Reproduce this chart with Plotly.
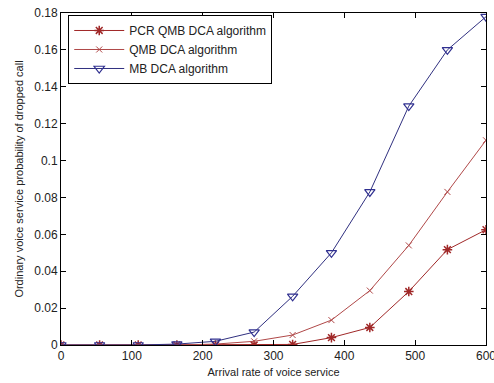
import plotly.graph_objects as go

x_vals = [0, 54.5, 109, 163.6, 218, 272.7, 327, 381.8, 436, 491, 545.5, 600]
pcr_qmb = [0, 0, 0, 0, 0, 0, 0.0003, 0.004, 0.0095, 0.029, 0.0517, 0.0625]
qmb = [0, 0, 0, 0, 0.0005, 0.002, 0.0054, 0.0135, 0.0295, 0.054, 0.083, 0.111]
mb = [0, 0, 0, 0.0005, 0.002, 0.007, 0.0264, 0.05, 0.083, 0.1295, 0.16, 0.178]

names = ["PCR QMB DCA algorithm", "QMB DCA algorithm", "MB DCA algorithm"]
x_ticks = [0, 100, 200, 300, 400, 500, 600]
y_ticks = [0, 0.02, 0.04, 0.06, 0.08, 0.1, 0.12, 0.14, 0.16, 0.18]
y_tick_labels = ["0", "0.02", "0.04", "0.06", "0.08", "0.1", "0.12", "0.14", "0.16", "0.18"]

fig = go.Figure()
fig.add_trace(go.Scatter(x=x_vals, y=pcr_qmb, name=names[0], mode="lines+markers",
                         line=dict(color="#a02828", width=1),
                         marker=dict(symbol="asterisk-open", size=8,
                                     line=dict(color="#e02020", width=1.5))))
fig.add_trace(go.Scatter(x=x_vals, y=qmb, name=names[1], mode="lines+markers",
                         line=dict(color="#b04848", width=1),
                         marker=dict(symbol="x-thin-open", size=6,
                                     line=dict(color="#d04040", width=1))))
fig.add_trace(go.Scatter(x=x_vals, y=mb, name=names[2], mode="lines+markers",
                         line=dict(color="#303080", width=1),
                         marker=dict(symbol="triangle-down-open", size=9,
                                     color="#303090",
                                     line=dict(color="#303090", width=1.2))))

axis_common = dict(showline=True, linecolor="black", linewidth=1, mirror="ticks",
                   ticks="inside", ticklen=5, tickcolor="black", showgrid=False,
                   zeroline=False, automargin=False, ticklabeloverflow="allow",
                   tickfont=dict(family="Liberation Sans, Arial", size=12, color="#222"))

fig.update_xaxes(range=[0, 600], tickvals=x_ticks,
                 title=dict(text="Arrival rate of voice service",
                            font=dict(family="Liberation Sans, Arial", size=11, color="#222"),
                            standoff=5),
                 **axis_common)
fig.update_yaxes(range=[0, 0.18], tickvals=y_ticks, ticktext=y_tick_labels,
                 title=dict(text="Ordinary voice service probability of dropped call",
                            font=dict(family="Liberation Sans, Arial", size=11, color="#222"),
                            standoff=8),
                 **axis_common)

fig.update_layout(
    width=494, height=383,
    margin=dict(l=61, r=8, t=13, b=38),
    paper_bgcolor="white", plot_bgcolor="white",
    showlegend=True,
    legend=dict(x=0.017, y=0.994, xanchor="left", yanchor="top",
                bgcolor="white", bordercolor="black", borderwidth=1,
                font=dict(family="Liberation Sans, Arial", size=12, color="#222"),
                itemwidth=50, tracegroupgap=0),
)

# remove the default 8px page margin so the figure fills the window exactly
fig.write_html("out.html", config={"displayModeBar": False},
               post_script="document.body.style.margin='0';")
